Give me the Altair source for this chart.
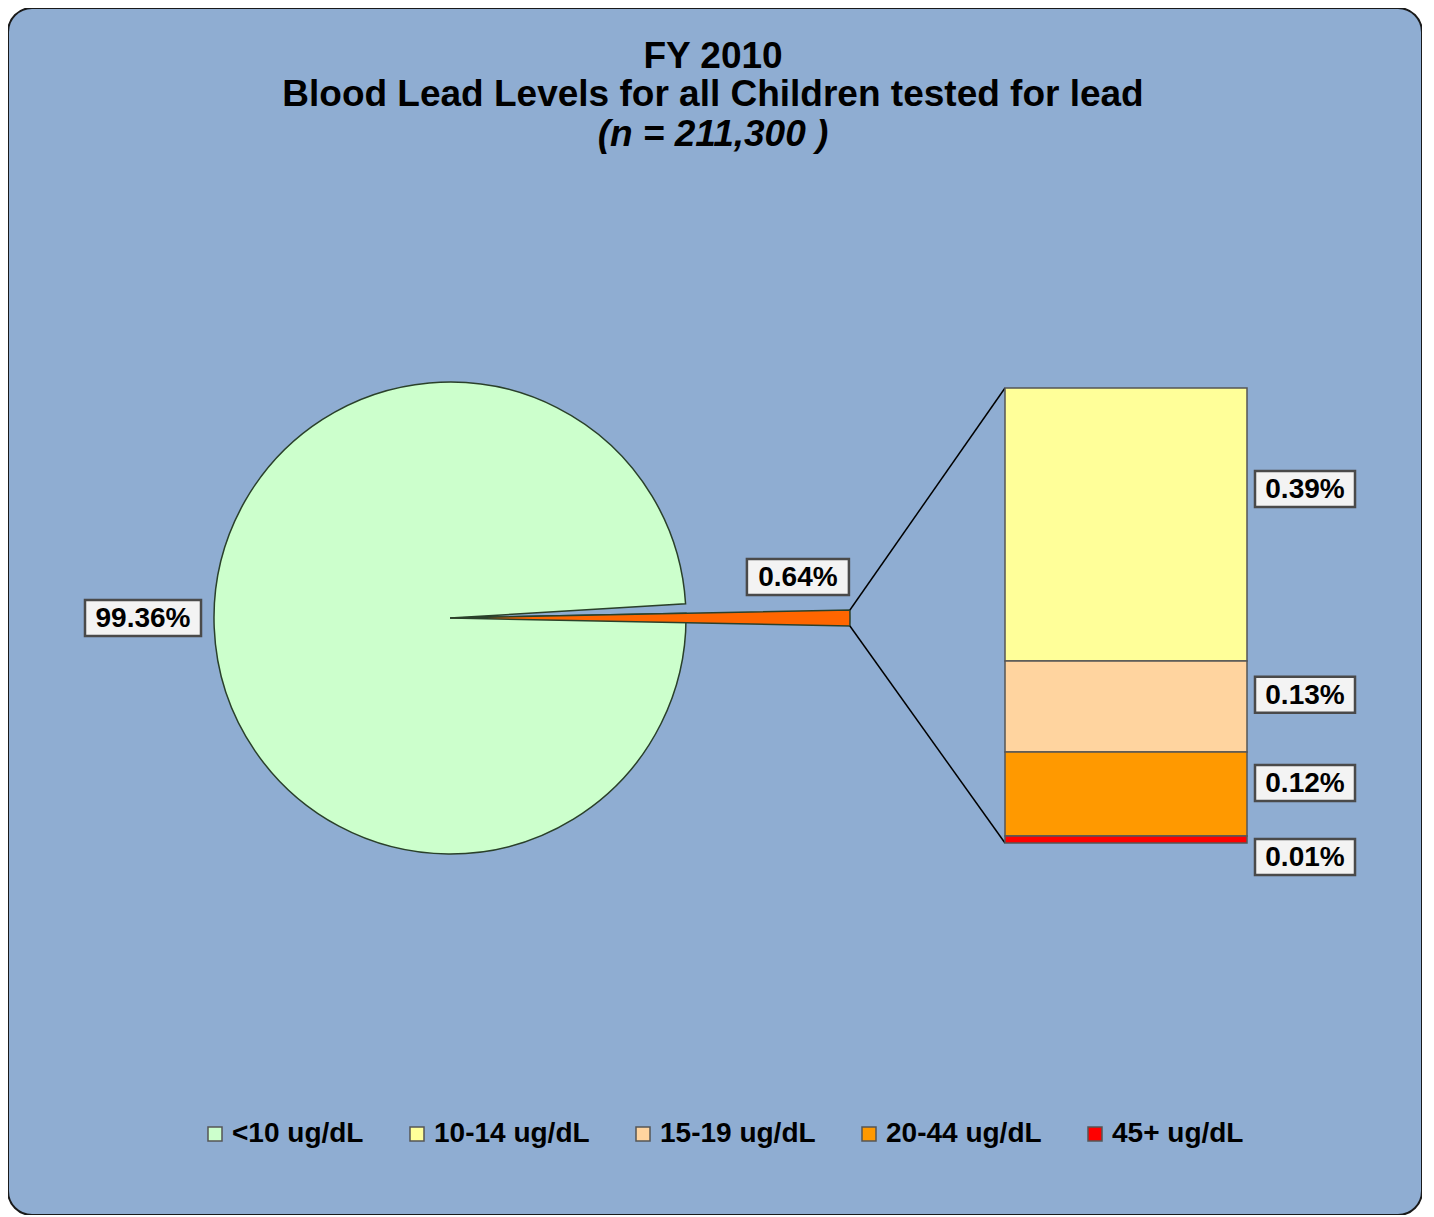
import math
import altair as alt
import pandas as pd

# ---------------- data ----------------
CATEGORIES = ["<10 ug/dL", "10-14 ug/dL", "15-19 ug/dL", "20-44 ug/dL", "45+ ug/dL"]
COLORS = ["#CCFFCC", "#FFFF99", "#FFD49F", "#FF9900", "#FF0000"]
PIE_CATS = ["<10 ug/dL", "Other"]
PIE_VALUES = [99.36, 0.64]
BAR_CATS = ["10-14 ug/dL", "15-19 ug/dL", "20-44 ug/dL", "45+ ug/dL"]
BAR_VALUES = [0.39, 0.13, 0.12, 0.01]
TITLE_LINES = ["FY 2010", "Blood Lead Levels for all Children tested for lead", "(n = 211,300 )"]
OTHER_COLOR = "#FF6600"

# ---------------- layout (pixels, view coordinates) ----------------
W, H = 1414, 1207
CX, CY = 442, 610
R_PIE, R_OTHER = 236, 400
BAR_X0, BAR_X1 = 997, 1239
BAR_TOP, BAR_BOTTOM = 380, 835
LABEL_X = 1297
FONT = "Liberation Sans"

pie_total = sum(PIE_VALUES)
half = PIE_VALUES[1] / pie_total * math.pi
start = math.pi / 2 - half
TIP_X = CX + R_OTHER * math.cos(half)
TIP_Y_TOP = CY - R_OTHER * math.sin(half)
TIP_Y_BOT = CY + R_OTHER * math.sin(half)

bar_total = sum(BAR_VALUES)
yscale = alt.Scale(domain=[0, bar_total], range=[BAR_BOTTOM, BAR_TOP])

color_scale = alt.Scale(domain=CATEGORIES + ["Other"], range=COLORS + [OTHER_COLOR])
legend = alt.Legend(
    values=CATEGORIES, orient="none", legendX=193, legendY=1112, direction="horizontal",
    title=None, symbolType="square", symbolSize=196, symbolStrokeColor="#555555",
    symbolStrokeWidth=1.5, symbolOpacity=1, labelFont=FONT,
    labelFontSize=28, labelFontWeight="bold", labelColor="black", labelLimit=400,
    columnPadding=39, labelOffset=3, padding=0,
)

def box_path(w, h):
    a = h / w
    return f"M-1,-{a:.4f}H1V{a:.4f}H-1Z"

# ---------------- pie ----------------
pie_df = pd.DataFrame({"cat": PIE_CATS, "value": PIE_VALUES, "ord": [1, 0]})
pie = alt.Chart(pie_df).transform_calculate(
    r=f"datum.cat === 'Other' ? {R_OTHER} : {R_PIE}"
).mark_arc(stroke="#2A402A", strokeWidth=1.5).encode(
    theta=alt.Theta("value:Q", stack=True,
                    scale=alt.Scale(domain=[0, pie_total], range=[start, start + 2 * math.pi])),
    radius=alt.Radius("r:Q", scale=None),
    color=alt.Color("cat:N", scale=color_scale, legend=legend),
    order=alt.Order("ord:Q"),
    x=alt.value(CX),
    y=alt.value(CY),
)

# ---------------- bar of pie ----------------
bar_df = pd.DataFrame({"cat": BAR_CATS, "value": BAR_VALUES, "idx": list(range(len(BAR_CATS)))})
bar_base = alt.Chart(bar_df).transform_window(
    y1="sum(value)", sort=[alt.SortField("idx", order="descending")], frame=[None, 0]
).transform_calculate(
    y0="datum.y1 - datum.value",
    ly="datum.value < 0.05 ? datum.y1 - datum.value - 0.02 : datum.y1 - datum.value + 0.63 * datum.value",
    label="format(datum.value, '.2f') + '%'",
)
bars = bar_base.mark_rect(stroke="#555555", strokeWidth=1.5).encode(
    x=alt.value(BAR_X0), x2=alt.value(BAR_X1),
    y=alt.Y("y1:Q", scale=yscale, axis=None), y2="y0:Q",
    color=alt.Color("cat:N", scale=color_scale, legend=legend),
)
bar_boxes = bar_base.mark_point(
    shape=box_path(100, 36), size=100 ** 2, filled=True, fill="#F3F3F3",
    stroke="#4A4A4A", strokeWidth=2.5, opacity=1,
).encode(x=alt.value(LABEL_X), y=alt.Y("ly:Q", scale=yscale, axis=None))
bar_text = bar_base.mark_text(
    font=FONT, fontSize=28, fontWeight="bold", color="black", baseline="middle", dy=1
).encode(x=alt.value(LABEL_X), y=alt.Y("ly:Q", scale=yscale, axis=None), text="label:N")

# ---------------- connectors ----------------
rule_top = alt.Chart(pd.DataFrame({"v": [bar_total]})).mark_rule(color="black", strokeWidth=1.5).encode(
    x=alt.value(BAR_X0), y=alt.Y("v:Q", scale=yscale, axis=None),
    x2=alt.value(TIP_X), y2=alt.value(TIP_Y_TOP),
)
rule_bot = alt.Chart(pd.DataFrame({"v": [0.0]})).mark_rule(color="black", strokeWidth=1.5).encode(
    x=alt.value(BAR_X0), y=alt.Y("v:Q", scale=yscale, axis=None),
    x2=alt.value(TIP_X), y2=alt.value(TIP_Y_BOT),
)

# ---------------- pie labels ----------------
pie_lab = pd.DataFrame({"cat": PIE_CATS, "value": PIE_VALUES})
def pie_label(cat, x, y, w):
    base = alt.Chart(pie_lab).transform_filter(alt.datum.cat == cat).transform_calculate(
        label="format(datum.value, '.2f') + '%'"
    )
    box = base.mark_point(shape=box_path(w, 36), size=w ** 2, filled=True, fill="#F3F3F3",
                          stroke="#4A4A4A", strokeWidth=2.5, opacity=1).encode(
        x=alt.value(x), y=alt.value(y))
    txt = base.mark_text(font=FONT, fontSize=28, fontWeight="bold", color="black",
                         baseline="middle", dy=1).encode(
        x=alt.value(x), y=alt.value(y), text="label:N")
    return box + txt

lab_big = pie_label("<10 ug/dL", CX - R_PIE - 71, CY, 116)
lab_other = pie_label("Other", TIP_X - 52, TIP_Y_TOP - 33, 102)

# ---------------- title ----------------
one = pd.DataFrame({"k": [0]})
t1 = alt.Chart(one).mark_text(font=FONT, fontSize=37, fontWeight="bold", color="black",
                              baseline="middle").encode(
    x=alt.value(W / 2 - 2), y=alt.value(49), text=alt.value(TITLE_LINES[0]))
t2 = alt.Chart(one).mark_text(font=FONT, fontSize=37, fontWeight="bold", color="black",
                              baseline="middle").encode(
    x=alt.value(W / 2 - 2), y=alt.value(87), text=alt.value(TITLE_LINES[1]))
t3 = alt.Chart(one).mark_text(font=FONT, fontSize=37, fontWeight="bold", fontStyle="italic",
                              color="black", baseline="middle").encode(
    x=alt.value(W / 2 - 2), y=alt.value(127), text=alt.value(TITLE_LINES[2]))

chart = alt.layer(
    pie, rule_top, rule_bot, bars, bar_boxes, bar_text, lab_big, lab_other, t1, t2, t3
).properties(
    width=W, height=H, padding=0, background="white",
    autosize=alt.AutoSizeParams(type="none"),
).configure_view(
    fill="#8FADD2", stroke="#1A1A1A", strokeWidth=2, cornerRadius=24,
)

chart.save("out.html", embed_options={"renderer": "svg", "actions": False})
